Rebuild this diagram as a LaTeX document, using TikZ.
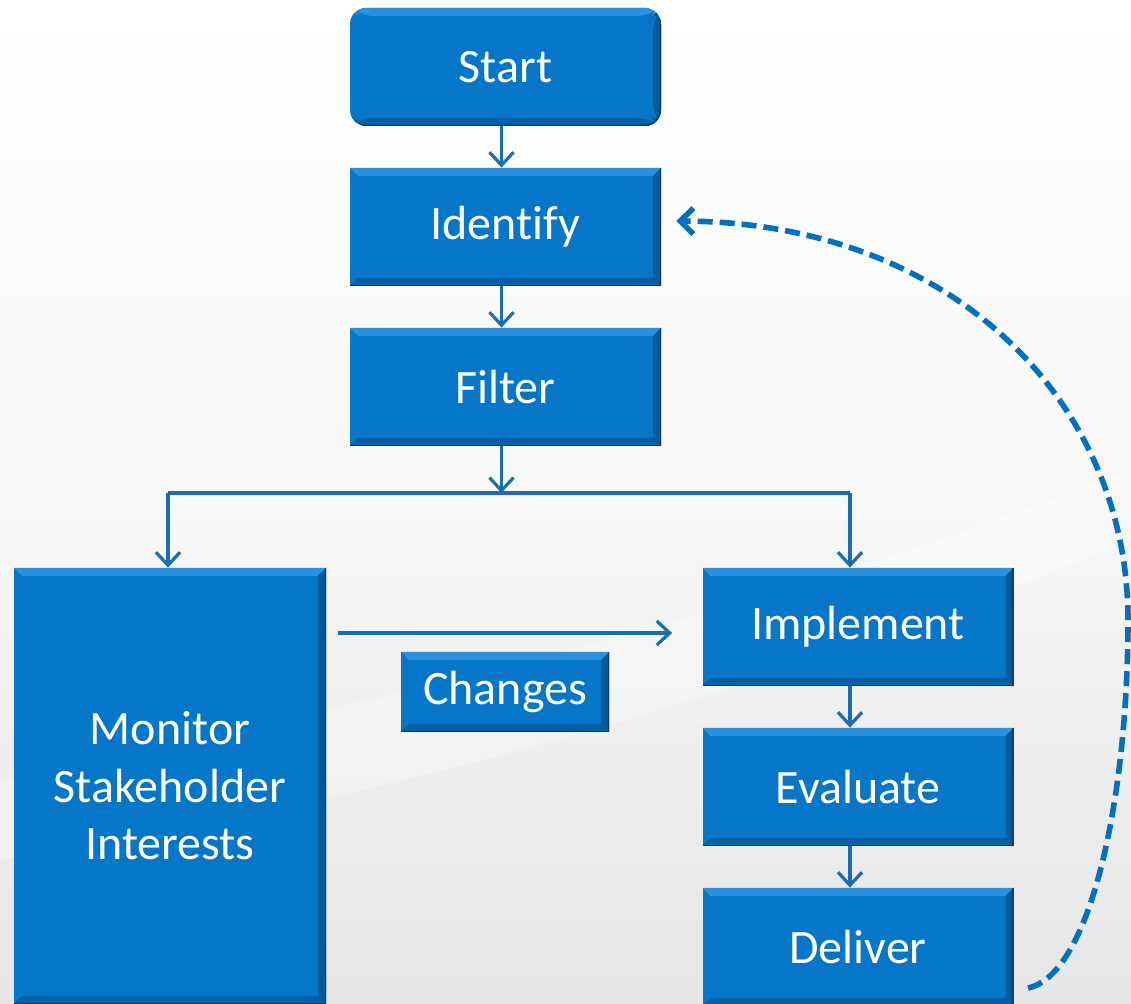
\documentclass[tikz,border=0pt]{standalone}
\usepackage{fontspec}
\setmainfont[Ligatures=NoCommon]{Carlito}
\usetikzlibrary{arrows.meta}
\definecolor{boxblue}{HTML}{0676C8}
\definecolor{boxlight}{HTML}{2C90DC}
\definecolor{boxdark}{HTML}{04599B}
\definecolor{boxedge}{HTML}{0B3A62}
\definecolor{flowblue}{HTML}{1A6DB3}
\definecolor{loopblue}{HTML}{0070C0}
\tikzstyle{stepbox}=[rectangle, fill=boxblue, text=white, align=center, inner sep=0pt,
  font=\fontsize{24}{28.75}\selectfont, minimum width=155.5pt, minimum height=59pt,
  path picture={
    % bevelled edges
    \fill[boxlight] (path picture bounding box.north west) -- (path picture bounding box.north east)
      -- ++(-4pt,-4pt) -- ([shift={(4pt,-4pt)}]path picture bounding box.north west) -- cycle;
    \fill[boxdark] (path picture bounding box.north east) -- (path picture bounding box.south east)
      -- ++(-4pt,4pt) -- ([shift={(-4pt,-4pt)}]path picture bounding box.north east) -- cycle;
    \fill[boxdark!80!boxblue] (path picture bounding box.south west) -- (path picture bounding box.south east)
      -- ++(-4pt,4pt) -- ([shift={(4pt,4pt)}]path picture bounding box.south west) -- cycle;
    \draw[boxedge, line width=1.2pt] (path picture bounding box.north east)
      -- (path picture bounding box.south east) -- (path picture bounding box.south west);
  }]
\tikzstyle{flow}=[flowblue, line width=1.6pt, -{Straight Barb[length=6.5pt, width=12pt]}]
\tikzstyle{loopback}=[loopblue, line width=2.8pt, dash pattern=on 7.5pt off 3.5pt,
  -{Straight Barb[length=6.5pt, width=13pt]}]

\begin{document}
\begin{tikzpicture}[x=0.5pt, y=-0.5pt]
  % background
  \shade[top color=white, bottom color=black!10, middle color=black!3] (0,0) rectangle (1131,1004);
  \fill[white, opacity=0.3] (0,780) .. controls (400,700) and (800,600) .. (1131,470)
    -- (1131,540) .. controls (800,680) and (400,800) .. (0,860) -- cycle;
  \useasboundingbox (0,0) rectangle (1131,1004);

  \node[stepbox, rounded corners=8pt] (start) at (505.5, 67) {Start};
  \node[stepbox] (identify) at (505.5, 227) {Identify};
  \node[stepbox] (filter)   at (505.5, 387) {Filter};
  \node[stepbox, minimum width=156pt, minimum height=218pt] (monitor) at (170, 786)
    {Monitor\\Stakeholder\\Interests};
  \node[stepbox] (impl)     at (858, 627) {Implement};
  \node[stepbox] (evaluate) at (858, 787) {Evaluate};
  \node[stepbox] (deliver)  at (858, 947) {Deliver};
  \node[stepbox, minimum width=104pt, minimum height=40pt] (changes) at (505, 692) {Changes};

  \coordinate (splitL) at (168, 493);
  \coordinate (splitR) at (850, 493);
  \coordinate (loopstart) at (1028, 988);

  \draw[flow] ([xshift=-2pt]start.south) -- ([xshift=-2pt]identify.north);
  \draw[flow] ([xshift=-2pt]identify.south) -- ([xshift=-2pt]filter.north);
  \draw[flow] ([xshift=-2pt]filter.south) -- ([xshift=-2pt]filter.south |- splitL);
  \draw[flowblue, line width=1.6pt] (splitL) -- (splitR);
  \draw[flow] (splitL) -- (splitL |- monitor.north);
  \draw[flow] (splitR) -- (splitR |- impl.north);
  \draw[flow, shorten <=6pt, shorten >=15pt] ([yshift=-3pt]impl.west -| monitor.east) -- ([yshift=-3pt]impl.west);
  \draw[flow] ([xshift=-4pt]impl.south) -- ([xshift=-4pt]evaluate.north);
  \draw[flow] ([xshift=-4pt]evaluate.south) -- ([xshift=-4pt]deliver.north);
  \draw[loopback, shorten >=7.5pt] (loopstart) .. controls (1090,975) and (1128,800) .. (1128,620)
    .. controls (1128,400) and (950,222) .. ([yshift=3pt]identify.east);
\end{tikzpicture}
\end{document}
